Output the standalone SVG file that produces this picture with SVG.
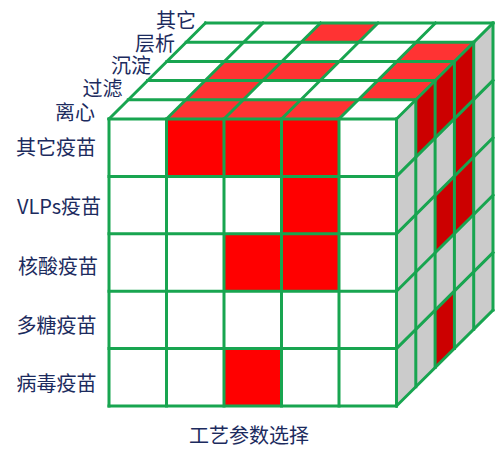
<svg xmlns="http://www.w3.org/2000/svg" width="495" height="458" viewBox="0 0 495 458">
<style>
.lbl{font-family:"Noto Sans CJK SC","Noto Sans",sans-serif;font-size:20px;fill:#1c2b5e;text-anchor:middle}
.grid{stroke:#18a550;stroke-width:3;fill:none;stroke-linecap:square}
.rf{fill:#ff0000}
.rt{fill:#ff3333}
.rs{fill:#cc0000}
</style>
<rect width="495" height="458" fill="#ffffff"/>
<g id="top-face">
<polygon points="109,119 205.5,23 493,23 396.5,119" fill="#ffffff"/>
<polygon class="rt" points="166.5,119 224,119 243.3,99.8 185.8,99.8"/>
<polygon class="rt" points="224,119 281.5,119 300.8,99.8 243.3,99.8"/>
<polygon class="rt" points="281.5,119 339,119 358.3,99.8 300.8,99.8"/>
<polygon class="rt" points="185.8,99.8 243.3,99.8 262.6,80.6 205.1,80.6"/>
<polygon class="rt" points="358.3,99.8 415.8,99.8 435.1,80.6 377.6,80.6"/>
<polygon class="rt" points="205.1,80.6 262.6,80.6 281.9,61.4 224.4,61.4"/>
<polygon class="rt" points="262.6,80.6 320.1,80.6 339.4,61.4 281.9,61.4"/>
<polygon class="rt" points="377.6,80.6 435.1,80.6 454.4,61.4 396.9,61.4"/>
<polygon class="rt" points="396.9,61.4 454.4,61.4 473.7,42.2 416.2,42.2"/>
<polygon class="rt" points="301.2,42.2 358.7,42.2 378,23 320.5,23"/>
</g>
<g id="side-face">
<polygon points="396.5,119 493,23 493,310 396.5,406" fill="#cbcbcb"/>
<polygon class="rs" points="415.8,99.8 435.1,80.6 435.1,138 415.8,157.2"/>
<polygon class="rs" points="435.1,80.6 454.4,61.4 454.4,118.8 435.1,138"/>
<polygon class="rs" points="435.1,195.4 454.4,176.2 454.4,233.6 435.1,252.8"/>
<polygon class="rs" points="435.1,310.2 454.4,291 454.4,348.4 435.1,367.6"/>
<polygon class="rs" points="454.4,61.4 473.7,42.2 473.7,99.6 454.4,118.8"/>
<polygon class="rs" points="454.4,118.8 473.7,99.6 473.7,157 454.4,176.2"/>
<polygon class="rs" points="454.4,176.2 473.7,157 473.7,214.4 454.4,233.6"/>
</g>
<g id="front-face">
<rect x="109" y="119" width="287.5" height="287" fill="#ffffff"/>
<rect class="rf" x="166.5" y="119" width="172.5" height="57.4"/>
<rect class="rf" x="281.5" y="176.4" width="57.5" height="57.4"/>
<rect class="rf" x="224" y="233.8" width="115" height="57.4"/>
<rect class="rf" x="224" y="348.6" width="57.5" height="57.4"/>
</g>
<g id="connectors" class="grid">
<path d="M109,119H396.5M109,176.4H396.5M109,233.8H396.5M109,291.2H396.5M109,348.6H396.5M109,406H396.5"/>
<path d="M109,119V406M166.5,119V406M224,119V406M281.5,119V406M339,119V406M396.5,119V406"/>
<path d="M128.3,99.8H415.8M147.6,80.6H435.1M166.9,61.4H454.4M186.2,42.2H473.7M205.5,23H493"/>
<path d="M109,119L205.5,23M166.5,119L263,23M224,119L320.5,23M281.5,119L378,23M339,119L435.5,23M396.5,119L493,23"/>
<path d="M415.8,99.8V386.8M435.1,80.6V367.6M454.4,61.4V348.4M473.7,42.2V329.2M493,23V310"/>
<path d="M396.5,176.4L493,80.4M396.5,233.8L493,137.8M396.5,291.2L493,195.2M396.5,348.6L493,252.6M396.5,406L493,310"/>
</g>
<g id="labels">
<text class="lbl" x="176" y="27.6">其它</text>
<text class="lbl" x="155" y="50.6">层析</text>
<text class="lbl" x="131" y="72.6">沉淀</text>
<text class="lbl" x="102.5" y="95.6">过滤</text>
<text class="lbl" x="75" y="119.6">离心</text>
<text class="lbl" x="56" y="154.6">其它疫苗</text>
<text class="lbl" x="59" y="214">VLPs疫苗</text>
<text class="lbl" x="58" y="274">核酸疫苗</text>
<text class="lbl" x="56.5" y="332.5">多糖疫苗</text>
<text class="lbl" x="56.5" y="390.5">病毒疫苗</text>
<text class="lbl" x="249" y="442.6">工艺参数选择</text>
</g>
</svg>
